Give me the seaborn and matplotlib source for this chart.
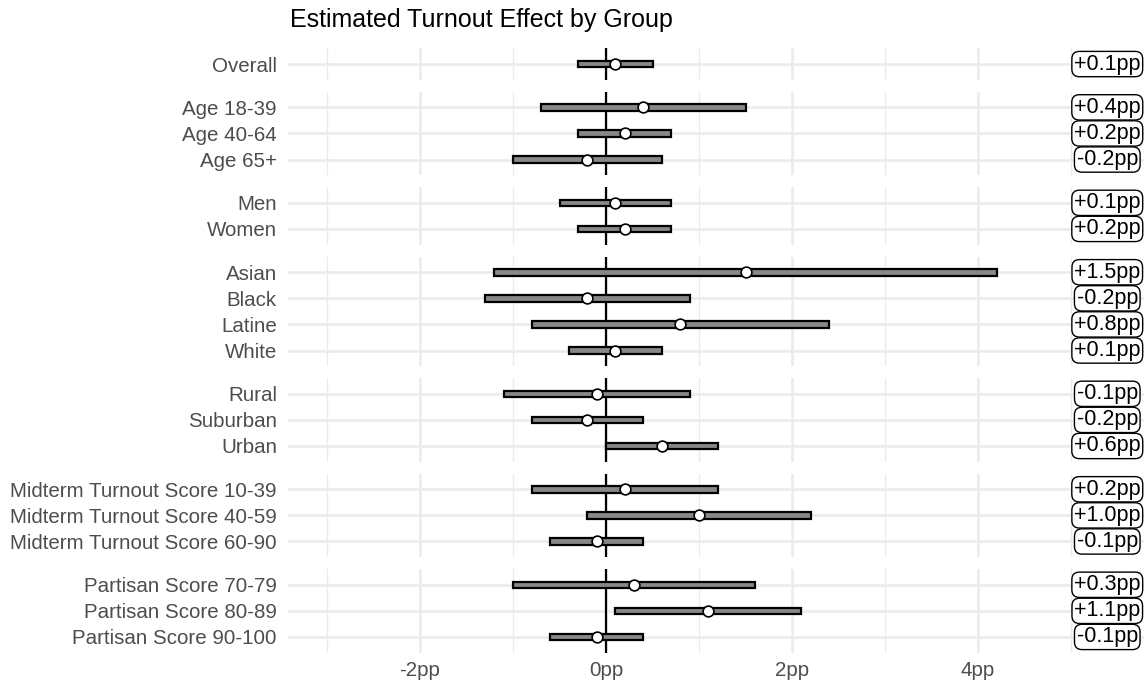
import matplotlib.pyplot as plt
import pandas as pd
import seaborn as sns

# groups shown top to bottom, one panel per group
labels = ["Overall",
          "Age 18-39", "Age 40-64", "Age 65+",
          "Men", "Women",
          "Asian", "Black", "Latine", "White",
          "Rural", "Suburban", "Urban",
          "Midterm Turnout Score 10-39", "Midterm Turnout Score 40-59", "Midterm Turnout Score 60-90",
          "Partisan Score 70-79", "Partisan Score 80-89", "Partisan Score 90-100"]
panel = [0, 1, 1, 1, 2, 2, 3, 3, 3, 3, 4, 4, 4, 5, 5, 5, 6, 6, 6]
estimate = [0.1, 0.4, 0.2, -0.2, 0.1, 0.2, 1.5, -0.2, 0.8, 0.1, -0.1, -0.2, 0.6, 0.2, 1.0, -0.1, 0.3, 1.1, -0.1]
lower = [-0.3, -0.7, -0.3, -1.0, -0.5, -0.3, -1.2, -1.3, -0.8, -0.4, -1.1, -0.8, 0.0, -0.8, -0.2, -0.6, -1.0, 0.1, -0.6]
upper = [0.5, 1.5, 0.7, 0.6, 0.7, 0.7, 4.2, 0.9, 2.4, 0.6, 0.9, 0.4, 1.2, 1.2, 2.2, 0.4, 1.6, 2.1, 0.4]
xticks = [-2, 0, 2, 4]
xticklabels = ["-2pp", "0pp", "2pp", "4pp"]

df = pd.DataFrame({"label": labels, "panel": panel, "estimate": estimate,
                   "lower": lower, "upper": upper})
df["text"] = [f"{v:+.1f}pp" for v in df["estimate"]]

sns.set_theme(style="white")
plt.rcParams["font.family"] = ["Liberation Sans", "DejaVu Sans"]

W, H = 1144, 684
n_panels = df["panel"].nunique()
sizes = df.groupby("panel").size().tolist()
ratios = [n - 1 + 1.2 for n in sizes]

fig, axes = plt.subplots(n_panels, 1, figsize=(W / 100, H / 100), dpi=100,
                         gridspec_kw={"height_ratios": ratios, "hspace": 0.158})
fig.subplots_adjust(left=288 / W, right=1.0, top=1 - 48.4 / H, bottom=1 - 652.6 / H)

xmin, xmax = -3.42, 5.785
label_x = 5.39
grid_col = "#ebebeb"

for p, ax in enumerate(axes):
    sub = df[df["panel"] == p].reset_index(drop=True)
    sub["pos"] = range(len(sub))

    for x in [-3, -1, 1, 3, 5]:
        ax.axvline(x, color=grid_col, lw=1.0, zorder=0)
    for x in xticks:
        ax.axvline(x, color=grid_col, lw=1.8, zorder=0)
    for y in sub["pos"]:
        ax.axhline(y, color=grid_col, lw=1.8, zorder=0)

    ax.axvline(0, color="black", lw=1.6, zorder=2)
    ax.barh(sub["pos"], sub["upper"] - sub["lower"], left=sub["lower"], height=0.25,
            color="#888888", edgecolor="black", linewidth=1.6, zorder=3)
    sns.scatterplot(data=sub, x="estimate", y="pos", ax=ax, s=60, color="white",
                    edgecolor="black", linewidth=1.2, zorder=4, legend=False)

    for _, r in sub.iterrows():
        ax.text(label_x, r["pos"], r["text"], ha="center", va="center", fontsize=15.5,
                color="black", zorder=5,
                bbox=dict(boxstyle="round,pad=0.1,rounding_size=0.35", fc="white",
                          ec="black", lw=1.0))

    ax.set_xlim(xmin, xmax)
    ax.set_ylim(len(sub) - 1 + 0.6, -0.6)
    ax.set_yticks(sub["pos"])
    ax.set_yticklabels(sub["label"], fontsize=14.8, color="#4d4d4d")
    ax.set_xlabel("")
    ax.set_ylabel("")
    ax.tick_params(axis="y", length=0, pad=8)
    ax.set_xticks(xticks)
    if p == n_panels - 1:
        ax.set_xticklabels(xticklabels, fontsize=14.8, color="#4d4d4d")
        ax.tick_params(axis="x", length=0, pad=6)
    else:
        ax.set_xticklabels([])
        ax.tick_params(axis="x", length=0)
    for s in ax.spines.values():
        s.set_visible(False)

fig.text(290 / W, 1 - 20 / H, "Estimated Turnout Effect by Group", fontsize=18,
         ha="left", va="center", color="black")

fig.savefig("out.png", dpi=100)
